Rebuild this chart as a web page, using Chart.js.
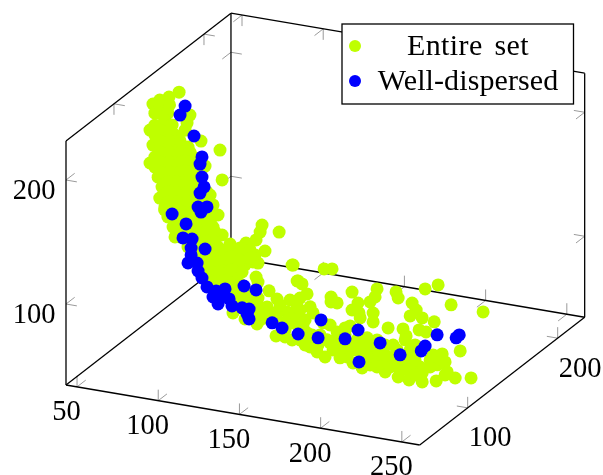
<!DOCTYPE html>
<html>
<head>
<meta charset="utf-8">
<style>
    body { margin: 0; background: #fff; }
    canvas { display: block; }
</style>
<script src="https://cdn.jsdelivr.net/npm/chart.js@4"></script>
</head>
<body>
<canvas id="chart" width="603" height="475"></canvas>
<script>
// Etiquetas de la leyenda y de los ejes.
const SERIES_NAMES = ['Entire set', 'Well-dispersed'];
const X_TICKS = [50, 100, 150, 200, 250];
const Y_TICKS = [100, 200];
const Z_TICKS = [100, 200];

// Limites de la caja 3D.
const X_RANGE = [43.2, 261];
const Y_RANGE = [46.7, 230];
const Z_RANGE = [34.7, 231.5];

// Una sola vista no permite leer la profundidad de cada punto: se usa el mismo valor de y.
const DEPTH_Y = 135;

// Conjunto completo, valores estimados de la imagen.
const entireX = [
    63.9, 57.7, 52, 47.8, 49, 46, 47.8, 46, 51, 52, 55, 57, 61.4,
    70.6, 68.8, 67.6, 77.4, 89.1, 90.4, 83, 84.8, 87.9, 90.4, 79.9,
    52, 58, 52, 57, 55, 49, 55, 59.6, 49, 55, 61.4,
    51, 57, 63.2, 69.4, 49, 55, 61.4, 67.6, 72.5,
    49, 55, 61.4, 67.6, 73.7, 52, 58.3, 64.5, 70.6, 75.6,
    53.4, 59.6, 65.7, 71.9, 78, 54, 60.2, 66.3, 72.5, 78.6,
    55.2, 61.4, 67.6, 73.7, 81.7, 58.3, 64.5, 70.6, 76.8, 84.2,
    60.2, 66.3, 72.5, 78.6, 84.8, 64.5, 70.6, 76.8, 83,
    69.4, 75.6, 81.7, 87.9, 73.7, 79.9, 86, 79.9, 84.8, 83, 87.9, 86, 92.2,
    95.3, 105.1, 111.3, 113.8, 115, 125.5, 116.8, 112.5, 133.5, 137.2,
    111.3, 112.5, 119.3, 124.2, 132.2, 137.2, 97.1, 104.5, 111.9, 123.6,
    133.5, 120, 130.4, 118.1, 105.8, 113.8, 124.2, 134.1,
    92.2, 98.4, 104.5, 110.7, 92.2, 98.4, 104.5, 109.4, 92.2, 98.4,
    102.7, 95.3, 101.4, 101.4, 107.6, 100.2, 106.4, 112.5, 101.4, 112.5,
    124.8, 120, 113.8, 129.2, 135.3, 141.5, 129.2, 126.1, 138.4,
    134.1, 153.2, 158.1, 136.6, 139.6, 170.4, 185.8, 184.6, 181.5, 197.5,
    198.8, 215.4, 223.4, 231.4, 251.1, 157.5, 157.5, 161.2, 142.7, 138.4,
    174.1, 170.4, 174.7, 175.4, 183.4, 183.4, 207.4, 209.9, 206.2, 213.6,
    221, 192.6, 201.8, 203.7, 211.7, 216, 161.2, 169.2, 179.7, 185.8,
    195.7, 203.1, 237, 225.9, 220.3, 218.5, 227.7, 229, 233.9, 243.7,
    222.2, 213.6, 205.5, 212.3, 210.5, 213.6, 198.8, 203.1, 204.3, 190.8,
    193.8, 189.5, 183.4, 185.8, 176.6, 171, 167.4, 163, 153.8, 148.9,
    144.6, 138.4, 136.6, 144.6, 146.4, 140.2, 152.6, 155, 158.7, 172.3,
    177.2, 192, 200, 222.8, 209.2, 142.7, 156.9, 179.7, 198.2, 195.7,
    204.3, 218.5, 173.5, 164.9, 185.8, 222.8, 225.9, 227.7, 150.7, 166.1, 209.2,
    52, 58.3, 52, 58.3, 64.5, 52, 58.3, 64.5, 70.6,
    52, 58.3, 64.5, 70.6, 76.8, 52, 58.3, 64.5, 70.6, 76.8,
    56.5, 62.6, 68.8, 75, 56.5, 62.6, 68.8, 75, 81.1,
    57.1, 63.2, 69.4, 75.6, 59.6, 65.7, 71.9, 78,
    63.2, 69.4, 75.6, 81.7, 67.6, 73.7, 79.9, 86,
    73.7, 79.9, 86, 76.8, 83, 89.1, 83, 87.9, 87.9, 90.4,
    95.3, 101.4, 107.6, 95.3, 95.5,
    129.2, 138.4, 145.8, 141.5, 149.5, 160, 169.2, 176.6, 163, 181.5,
    190.8, 197, 178.4, 209.2, 206.2, 156.9, 166.1, 181.5, 190.8
];
const entireZ = [
    225.8, 220.5, 216.8, 212.7, 205.6, 191.3, 179.6, 164.7, 154.4, 137.8, 128.8, 123.6, 108.5,
    208.8, 202, 196, 189.4, 184.7, 160.9, 147.1, 139.5, 132.1, 116.5, 169.8,
    212.8, 214.2, 206.3, 207.4, 201.4, 195.9, 197.3, 198.3, 187.9, 189.3, 190.7,
    178.6, 180, 181.4, 182.8, 170.2, 171.6, 173, 174.3, 175.4,
    162.1, 163.5, 164.9, 166.2, 167.6, 154.7, 156.1, 157.5, 158.8, 159.9,
    147, 148.4, 149.7, 151.1, 152.5, 139, 140.4, 141.8, 143.1, 144.5,
    131.3, 132.7, 134, 135.4, 137.2, 123.9, 125.3, 126.6, 128, 129.6,
    116.2, 117.6, 118.9, 120.3, 121.7, 109.2, 110.5, 111.9, 113.3,
    102.2, 103.5, 104.9, 106.3, 95.1, 96.5, 97.9, 88.4, 89.5, 81, 82.1, 73.7, 75,
    110.3, 113.3, 117.2, 124.1, 130, 126.7, 109.5, 98.8, 101.9, 89.8,
    87.3, 83.5, 77.9, 72.4, 73.4, 74.5, 55.1, 52, 49.6, 42.5,
    41.5, 61, 63.3, 64.7, 67.5, 58.8, 55.5, 55.3,
    104.8, 102.2, 103.6, 104.9, 95.1, 94.1, 95.5, 99, 87.1, 86,
    89.5, 78.9, 79.5, 108.5, 108.3, 72.7, 74.1, 70.6, 66.6, 65,
    62.1, 54.6, 53.2, 55, 62, 59.4, 42.9, 68.1, 66.7,
    102, 103.1, 104.2, 89.7, 88, 88.3, 94.2, 87.5, 82.8, 94.4,
    89.8, 100.8, 105.8, 91.5, 90.2, 81.4, 77.4, 77.5, 80.6, 76.4,
    80.3, 73.8, 72.4, 68.5, 74.3, 67.1, 87.7, 82.6, 77, 77,
    75.5, 64.3, 65.5, 60.3, 66.9, 66.3, 54.1, 60.7, 53.4, 53.1,
    51.2, 57, 55.6, 50.7, 48.7, 44.2, 44.7, 36.9, 33.1, 35.3,
    28.1, 25.4, 25.2, 37.2, 36.8, 32.7, 26.1, 38.4, 33.1, 28.4,
    33.1, 40.3, 38.1, 31.3, 28.5, 31.3, 35.3, 37.6, 32.3, 35.2,
    38.3, 42.6, 68.8, 70.6, 66.1, 53.4, 59.5, 46.3, 39, 42,
    37.5, 35.9, 32.1, 41.2, 30.1, 49.2, 44.2, 43.7, 47.8, 41.6,
    43.6, 38.6, 50.4, 42.8, 45, 47.7, 45.8, 34.2, 49.3, 52.8, 54.3,
    192.6, 194, 183.8, 185.2, 186.6, 174.9, 176.3, 177.7, 179,
    166.8, 168.2, 169.6, 170.9, 172.3, 158.8, 160.2, 161.6, 162.9, 164.3,
    151.7, 153, 154.4, 155.8, 143.6, 144.9, 146.3, 147.7, 149.1,
    135.7, 137.1, 138.5, 139.8, 128.2, 129.5, 130.9, 132.3,
    121, 122.4, 123.7, 125.1, 113.8, 115.2, 116.6, 118,
    107.1, 108.5, 109.9, 99.8, 101.2, 102.5, 93.1, 94.2, 86.2, 78.6,
    99.9, 98.8, 101.8, 89.4, 73.6,
    48.5, 50.6, 48.2, 39.2, 41, 47.4, 45.4, 47, 33.6, 32,
    42.1, 35.4, 35.3, 42.2, 49.6, 58.7, 58.4, 48.1, 50.1
];

// Subconjunto bien disperso, valores estimados de la imagen.
const dispersedX = [
    67.6, 64.5, 73.1, 78, 76.8, 78, 79.3, 76.8, 75.6, 81.1,
    77.4, 59.6, 68.2, 66.3, 71.9, 79.9, 71.3, 71.3, 69.4, 75,
    75.6, 78, 81.1, 86.7, 84.8, 92.2, 89.1, 87.9, 94.7, 96.5,
    102.7, 107, 105.8, 107, 103.9, 111.3, 121.2, 127.3, 137.2, 151.3,
    149.5, 166.1, 174.1, 187.7, 174.7, 200, 213, 215.4, 222.8, 234.5, 236.4
];
const dispersedZ = [
    215.4, 207.5, 192.5, 176.7, 170.7, 160.5, 152.8, 147.3, 135.8, 137.1,
    132.1, 126.6, 120.5, 108.8, 109.2, 102.9, 101.8, 96.2, 89.3, 90.5,
    84.2, 79.1, 72.6, 70.6, 65.3, 73.4, 66.2, 60.4, 65.9, 60.7,
    60.5, 60.5, 56.2, 52.5, 78.4, 76.9, 52.5, 49.7, 47.1, 61.6,
    46.7, 49.6, 58.5, 51.1, 32.9, 44.2, 50.3, 54.8, 65.4, 65.6, 68.4
];

const LIME = '#bfff00';
const BLUE = '#0000ff';
const TICK_GRAY = '#9a9a9a';
const TICK_LEN = 11;
const FONT = '"Liberation Serif", serif';

// Direcciones de los ejes en el plano de la imagen.
const AXIS_X = [1.624, 0.2755];
const AXIS_Y = [0.9, -0.697];
const AXIS_Z = [0, -1.24];
const ORIGIN = [66, 385];

// Función para proyectar un punto (x, y, z) al plano de la imagen.
const project = (x, y, z) => {
    const dx = x - X_RANGE[0];
    const dy = y - Y_RANGE[0];
    const dz = z - Z_RANGE[0];
    return {
        x: ORIGIN[0] + AXIS_X[0] * dx + AXIS_Y[0] * dy + AXIS_Z[0] * dz,
        y: ORIGIN[1] + AXIS_X[1] * dx + AXIS_Y[1] * dy + AXIS_Z[1] * dz
    };
};

// Función para normalizar una dirección a la longitud de las marcas.
const tickVector = (axis, sign) => {
    const len = Math.hypot(axis[0], axis[1]);
    return [sign * TICK_LEN * axis[0] / len, sign * TICK_LEN * axis[1] / len];
};

const toPixel = (chart, p) => ({
    x: chart.scales.x.getPixelForValue(p.x),
    y: chart.scales.y.getPixelForValue(p.y)
});

// Dibuja las aristas de la caja, las marcas y sus etiquetas por debajo de los puntos.
const boxPlugin = {
    id: 'box3d',
    beforeDatasetsDraw(chart) {
        const ctx = chart.ctx;
        const [x0, x1] = X_RANGE;
        const [y0, y1] = Y_RANGE;
        const [z0, z1] = Z_RANGE;

        const edges = [
            [[x0, y0, z0], [x0, y0, z1]],
            [[x0, y0, z0], [x1, y0, z0]],
            [[x1, y0, z0], [x1, y1, z0]],
            [[x1, y1, z0], [x1, y1, z1]],
            [[x0, y0, z1], [x0, y1, z1]],
            [[x0, y1, z1], [x1, y1, z1]],
            [[x0, y1, z0], [x0, y1, z1]],
            [[x0, y0, z0], [x0, y1, z0]],
            [[x0, y1, z0], [x1, y1, z0]]
        ];

        const tick = (point, vectors) => {
            const p = toPixel(chart, project(...point));
            vectors.forEach(v => {
                ctx.beginPath();
                ctx.moveTo(p.x, p.y);
                ctx.lineTo(p.x + v[0], p.y + v[1]);
                ctx.stroke();
            });
        };

        ctx.save();
        ctx.strokeStyle = TICK_GRAY;
        ctx.lineWidth = 1;
        const upX = tickVector(AXIS_X, 1);
        const downX = tickVector(AXIS_X, -1);
        const upY = tickVector(AXIS_Y, 1);
        const downY = tickVector(AXIS_Y, -1);
        const upZ = tickVector(AXIS_Z, 1);
        const downZ = tickVector(AXIS_Z, -1);

        X_TICKS.forEach(t => {
            tick([t, y0, z0], [upZ, upY]);
            tick([t, y1, z0], [upZ, downY]);
            tick([t, y1, z1], [downZ, downY]);
        });
        Y_TICKS.forEach(t => {
            tick([x1, t, z0], [upZ, downX]);
            tick([x0, t, z1], [downZ, upX]);
        });
        Z_TICKS.forEach(t => {
            tick([x0, y0, t], [upX, upY]);
            tick([x0, y1, t], [upX, downY]);
            tick([x1, y1, t], [downX, downY]);
        });

        ctx.strokeStyle = '#000';
        ctx.lineWidth = 1.3;
        edges.forEach(edge => {
            const a = toPixel(chart, project(...edge[0]));
            const b = toPixel(chart, project(...edge[1]));
            ctx.beginPath();
            ctx.moveTo(a.x, a.y);
            ctx.lineTo(b.x, b.y);
            ctx.stroke();
        });

        // Etiquetas de las marcas.
        ctx.fillStyle = '#000';
        ctx.font = `28.5px ${FONT}`;
        ctx.textAlign = 'center';
        ctx.textBaseline = 'alphabetic';
        X_TICKS.forEach(t => {
            const p = toPixel(chart, project(t, y0, z0));
            ctx.fillText(String(t), p.x - 10.5, p.y + 33.5);
        });
        Y_TICKS.forEach(t => {
            const p = toPixel(chart, project(x1, t, z0));
            ctx.fillText(String(t), p.x + 22.5, p.y + 38.5);
        });
        Z_TICKS.forEach(t => {
            const p = toPixel(chart, project(x0, y0, t));
            ctx.fillText(String(t), p.x - 32, p.y + 19);
        });
        ctx.restore();
    }
};

// Dibuja la leyenda en un recuadro sobre la esquina superior derecha.
const legendPlugin = {
    id: 'boxLegend',
    afterDraw(chart) {
        const ctx = chart.ctx;
        const colors = [LIME, BLUE];
        const spacing = ['0.4px', '0.1px'];
        const wordGap = ['4px', '0px'];
        const rowY = [46, 81];
        ctx.save();
        ctx.fillStyle = '#fff';
        ctx.fillRect(342, 24, 231.5, 80);
        ctx.strokeStyle = '#000';
        ctx.lineWidth = 1.3;
        ctx.strokeRect(342, 24, 231.5, 80);
        SERIES_NAMES.forEach((name, i) => {
            ctx.fillStyle = colors[i];
            ctx.beginPath();
            ctx.arc(355, rowY[i], 6, 0, Math.PI * 2);
            ctx.fill();
            ctx.fillStyle = '#000';
            ctx.font = `30px ${FONT}`;
            ctx.letterSpacing = spacing[i];
            ctx.wordSpacing = wordGap[i];
            ctx.textAlign = 'center';
            ctx.textBaseline = 'alphabetic';
            ctx.fillText(name, 468, rowY[i] + 9);
        });
        ctx.restore();
    }
};

const buildPoints = (xs, zs) => xs.map((x, i) => project(x, DEPTH_Y, zs[i]));

new Chart(document.getElementById('chart').getContext('2d'), {
    type: 'scatter',
    data: {
        datasets: [{
            label: SERIES_NAMES[0],
            data: buildPoints(entireX, entireZ),
            backgroundColor: LIME,
            pointRadius: 6.5,
            borderWidth: 0,
            order: 2
        }, {
            label: SERIES_NAMES[1],
            data: buildPoints(dispersedX, dispersedZ),
            backgroundColor: BLUE,
            pointRadius: 6.5,
            borderWidth: 0,
            order: 1
        }]
    },
    options: {
        responsive: false,
        animation: false,
        events: [],
        layout: { padding: 0, autoPadding: false },
        plugins: {
            legend: { display: false },
            tooltip: { enabled: false }
        },
        scales: {
            x: { type: 'linear', display: false, min: 0, max: 603 },
            y: { type: 'linear', display: false, min: 0, max: 475, reverse: true }
        }
    },
    plugins: [boxPlugin, legendPlugin]
});
</script>
</body>
</html>
